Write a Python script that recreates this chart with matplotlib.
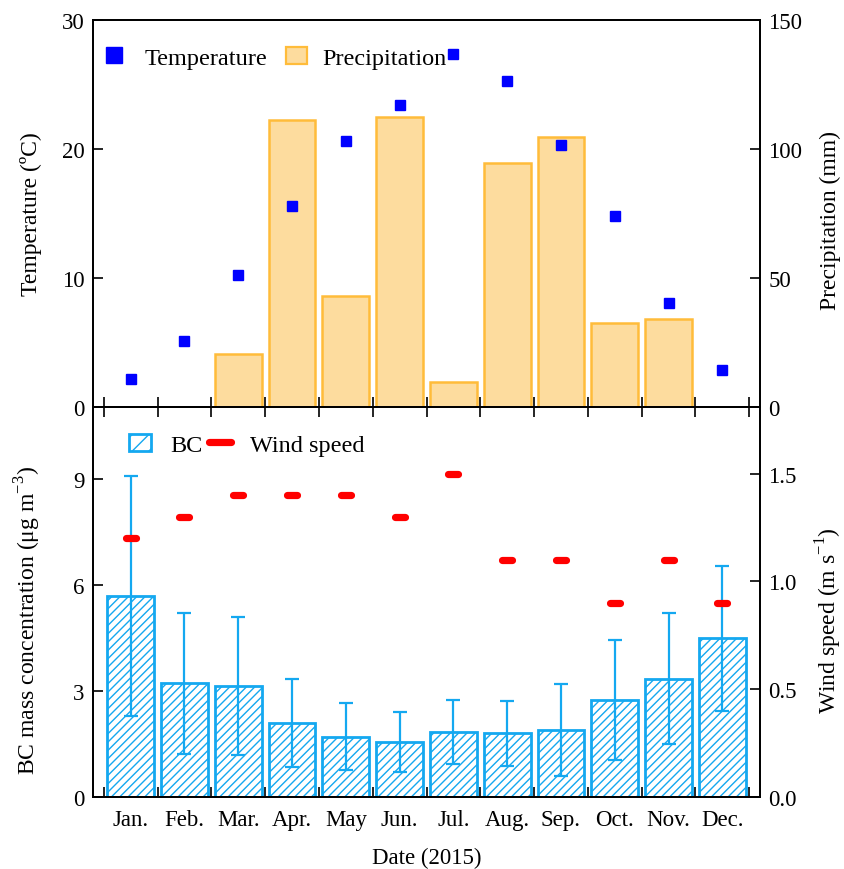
import numpy as np
import matplotlib
matplotlib.use('Agg')
import matplotlib.pyplot as plt
from matplotlib.lines import Line2D
from matplotlib.patches import Patch
from matplotlib.markers import MarkerStyle
from matplotlib.ticker import FormatStrFormatter

months = ['Jan.', 'Feb.', 'Mar.', 'Apr.', 'May', 'Jun.', 'Jul.', 'Aug.', 'Sep.', 'Oct.', 'Nov.', 'Dec.']
temperature = [2.2, 5.1, 10.2, 15.6, 20.6, 23.4, 27.4, 25.3, 20.3, 14.8, 8.1, 2.9]
precipitation = [0, 0, 20.5, 111.4, 43.0, 112.4, 9.7, 94.6, 104.6, 32.6, 34.1, 0]
bc = [5.69, 3.22, 3.15, 2.09, 1.71, 1.56, 1.84, 1.80, 1.90, 2.74, 3.35, 4.49]
bc_err = [3.4, 2.0, 1.95, 1.25, 0.95, 0.85, 0.9, 0.92, 1.3, 1.7, 1.85, 2.05]
wind = [1.2, 1.3, 1.4, 1.4, 1.4, 1.3, 1.5, 1.1, 1.1, 0.9, 1.1, 0.9]

plt.rcParams['font.family'] = ['Liberation Serif', 'DejaVu Serif']
plt.rcParams['mathtext.fontset'] = 'custom'
plt.rcParams['mathtext.rm'] = 'Liberation Serif'
plt.rcParams['hatch.linewidth'] = 1.0
FS = 16.5
FS_LAB = 17
FS_LEG = 17.5

BLUE_M = '#0000FF'
OR_EDGE = '#FFBC3A'
OR_FILL = '#FDDC9E'
BC_BLUE = '#14A8F0'
RED = '#FF0000'

fig = plt.figure(figsize=(8.45, 8.7), dpi=100)
L, R = 93 / 845, 760 / 845
ax1 = fig.add_axes([L, 1 - 408 / 870, R - L, 387 / 870])
ax2 = fig.add_axes([L, 1 - 798 / 870, R - L, 390 / 870])
ax1r = ax1.twinx()
ax2r = ax2.twinx()

x = np.arange(1, 13)

# top panel
ax1r.bar(x, precipitation, width=0.87, color=OR_FILL, edgecolor=OR_EDGE, linewidth=1.8)
ax1.plot(x, temperature, ls='none', marker='s', ms=7.2, color=BLUE_M, mec=BLUE_M)
ax1.set_zorder(ax1r.get_zorder() + 1)
ax1.patch.set_visible(False)

ax1.set_ylim(0, 30)
ax1r.set_ylim(0, 150)
ax1.set_yticks([0, 10, 20, 30])
ax1r.set_yticks([0, 50, 100, 150])

# bottom panel
ax2.bar(x, bc, width=0.87, facecolor='white', edgecolor=BC_BLUE, hatch='////', linewidth=2.0)
ax2.errorbar(x, bc, yerr=bc_err, fmt='none', ecolor=BC_BLUE, elinewidth=1.6, capsize=5, capthick=1.6)
wm = MarkerStyle('_', capstyle='round')
ax2r.plot(x, wind, ls='none', marker=wm, ms=7.5, mew=5.2, color=RED)

ax2.set_ylim(0, 11.04)
ax2r.set_ylim(0, 1.809)
ax2.set_yticks([0, 3, 6, 9])
ax2r.set_yticks([0, 0.5, 1.0, 1.5])
ax2r.yaxis.set_major_formatter(FormatStrFormatter('%.1f'))

for ax in (ax1, ax2):
    ax.set_xlim(0.3, 12.7)
    ax.set_xticks(x)
    ax.set_xticks(np.arange(0.5, 13, 1), minor=True)

ax1.tick_params(axis='x', which='major', length=0, labelbottom=False)
ax1.tick_params(axis='x', which='minor', direction='in', length=7, width=1.2, bottom=True, top=False)
ax2.set_xticklabels(months)
ax2.tick_params(axis='x', which='major', length=0, labelsize=FS, pad=9)
ax2.tick_params(axis='x', which='minor', direction='in', length=7.5, width=1.2, bottom=True, top=True)

for ax in (ax1, ax1r, ax2, ax2r):
    ax.tick_params(axis='y', direction='in', length=7, width=1.2, labelsize=FS, pad=6)
    for s in ax.spines.values():
        s.set_linewidth(1.3)

ax1.set_ylabel('Temperature (ºC)', fontsize=FS_LAB)
ax1r.set_ylabel('Precipitation (mm)', fontsize=FS_LAB)
ax2.set_ylabel('BC mass concentration (μg m$^{\\mathregular{-3}}$)', fontsize=FS_LAB)
ax2r.set_ylabel('Wind speed (m s$^{\\mathregular{-1}}$)', fontsize=FS_LAB)
ax2.set_xlabel('Date (2015)', fontsize=FS, labelpad=12)

ax1.yaxis.set_label_coords(-0.076, 0.5)
ax1r.yaxis.set_label_coords(1.089, 0.485)
ax2.yaxis.set_label_coords(-0.075, 0.456)
ax2r.yaxis.set_label_coords(1.080, 0.456)

# legends (top)
h_t = Line2D([], [], ls='none', marker='s', ms=12, color=BLUE_M)
h_p = Patch(facecolor=OR_FILL, edgecolor=OR_EDGE, linewidth=1.6)
leg_t = ax1.legend([h_t], ['Temperature'], loc='center left',
                   bbox_to_anchor=(0.014, 0.902), frameon=False, fontsize=FS_LEG,
                   handlelength=0.92, handletextpad=0.8,
                   borderpad=0, borderaxespad=0)
ax1.add_artist(leg_t)
ax1.legend([h_p], ['Precipitation'], loc='center left',
           bbox_to_anchor=(0.289, 0.902), frameon=False, fontsize=FS_LEG,
           handlelength=0.88, handletextpad=0.62,
           borderpad=0, borderaxespad=0)

# legends (bottom)
h_bc = Patch(facecolor='white', edgecolor=BC_BLUE, hatch='//', linewidth=2.0)
h_w = Line2D([], [], color=RED, lw=5.2, solid_capstyle='round')
ax2r.legend([h_bc, h_w], ['BC', 'Wind speed'], ncol=2, loc='center left',
            bbox_to_anchor=(0.054, 0.903), frameon=False, fontsize=FS_LEG,
            handlelength=0.9, handletextpad=0.78, columnspacing=0.3,
            borderpad=0, borderaxespad=0)

fig.savefig('out.png', dpi=100)
